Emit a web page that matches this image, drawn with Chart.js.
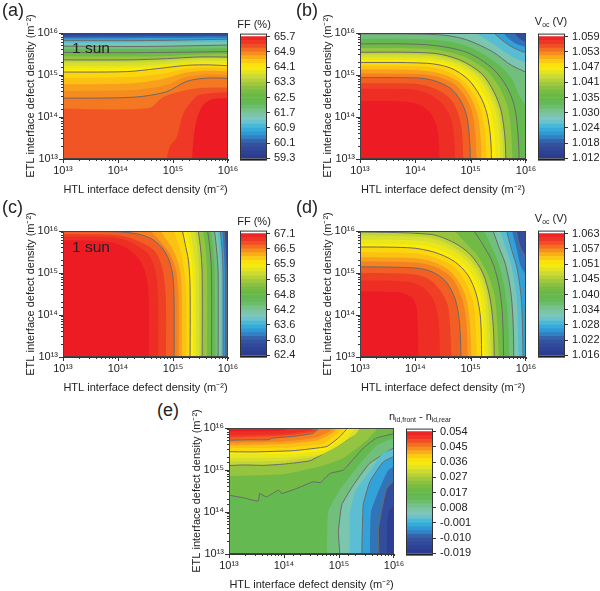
<!DOCTYPE html>
<html><head><meta charset="utf-8">
<script src="https://cdn.jsdelivr.net/npm/chart.js@4"></script>
<style>
html,body{margin:0;padding:0;background:#fff}
body{position:relative;width:600px;height:591px;overflow:hidden;font-family:"Liberation Sans",Arial,sans-serif;color:#222}
canvas{position:absolute}
.t{position:absolute;white-space:nowrap;line-height:1}
.t sub{font-size:.62em;vertical-align:-.35em;line-height:0}
</style></head><body>
<script>
const exponentTicks=['10¹³','10¹⁴','10¹⁵','10¹⁶'];
const xTitle='HTL interface defect density (m⁻²)';
const yTitle='ETL interface defect density (m⁻²)';

const scaleA=['59.3','60.1','60.9','61.7','62.5','63.3','64.1','64.9','65.7'];
const scaleB=['1.012','1.018','1.024','1.030','1.035','1.041','1.047','1.053','1.059'];
const scaleC=['62.4','63.0','63.6','64.2','64.8','65.3','65.9','66.5','67.1'];
const scaleD=['1.016','1.022','1.028','1.034','1.040','1.045','1.051','1.057','1.063'];
const scaleE=['-0.019','-0.010','-0.001','0.008','0.017','0.027','0.036','0.045','0.054'];

/* colour stops of the colour bar, bottom to top */
const colourStops=['#2b3a8e','#2f4498','#35569f','#2f8fd0','#37b4e0','#7cc7c5','#7cc39b','#66bb5c','#63b746','#80bd43','#abcb3c','#d8e02c','#fdec06','#fbbf14','#f47c22','#ef3f26','#ed1c24'];

/* contour levels: [level, has line, kind, x,y exponents...] */
const contoursA=[
[.0625,0,'',[13,15.96,16,15.97]],
[.125,0,'',[13,15.91,16,15.93]],
[.1875,0,'',[13,15.87,16,15.89]],
[.25,1,'',[13,15.82,14.5,15.82,16,15.86]],
[.3125,0,'',[13,15.76,16,15.79]],
[.375,1,'',[13,15.69,14.5,15.68,16,15.72]],
[.4375,0,'',[13,15.62,14.5,15.62,16,15.64]],
[.5,1,'',[13,15.54,14,15.53,15,15.54,16,15.56]],
[.5625,0,'',[13,15.45,14.5,15.44,15.5,15.49,16,15.5]],
[.625,1,'',[13,15.36,14.2,15.36,14.9,15.39,15.49,15.43,16,15.42]],
[.655,0,'',[13,15.3,14.2,15.3,14.9,15.33,15.5,15.39,16,15.38]],
[.6875,0,'',[13,15.22,14.2,15.22,14.9,15.27,15.5,15.34,16,15.32]],
[.72,0,'',[13,15.15,14.2,15.16,14.8,15.2,15.4,15.27,16,15.26]],
[.75,1,'',[13,15.07,14.15,15.08,14.7,15.15,15.25,15.23,15.67,15.24,16,15.2]],
[.78,0,'',[13,14.93,14.2,14.95,14.8,15.03,15.25,15.15,15.67,15.18,16,15.13]],
[.8125,0,'',[13,14.78,14.2,14.8,14.8,14.9,15.25,15.06,15.67,15.1,16,15.06]],
[.83,0,'',[13,14.62,14.25,14.64,14.85,14.75,15.25,14.96,15.67,15.02,16,14.98]],
[.85,1,'',[13,14.45,14.27,14.47,14.88,14.6,15.25,14.85,15.67,14.93,16,14.9]],
[.885,0,'',[13,14.21,14.55,14.21,14.84,14.49,15.49,14.69,16,14.69]],
[.92,0,'',[14.85,13,14.94,13.3,15.06,13.5,15.19,14.09,15.31,14.33,15.49,14.53,16,14.6]],
[.97,0,'',[15.34,13,15.37,13.45,15.43,13.93,15.55,14.29,15.73,14.43,16,14.44]]
];
const contoursB=[
[.0625,0,'',[15.85,16,16,15.92]],
[.125,0,'',[15.65,16,15.9,15.85,16,15.72]],
[.1875,0,'',[15.45,16,15.75,15.8,16,15.58]],
[.25,1,'',[15.23,16,15.55,15.85,15.85,15.6,16,15.44]],
[.3125,0,'',[14.8,16,15.45,15.7,15.8,15.4,16,15.18]],
[.375,1,'',[13,15.98,14.4,15.96,14.9,15.85,15.4,15.55,15.75,15.22,16,14.93]],
[.4375,0,'',[13,15.86,14.3,15.84,14.9,15.7,15.4,15.35,15.72,14.95,15.93,14.4,16,13.9]],
[.5,1,'',[13,15.74,14.2,15.72,14.93,15.54,15.4,15.15,15.66,14.7,15.8,14.2,15.86,13.5,15.88,13]],
[.5625,0,'',[13,15.64,14.25,15.62,14.85,15.45,15.3,15.09,15.54,14.65,15.68,14.18,15.74,13.5,15.76,13]],
[.625,1,'',[13,15.54,14.3,15.52,14.8,15.36,15.2,15.03,15.42,14.6,15.55,14.15,15.62,13.5,15.64,13]],
[.655,0,'',[13,15.48,14.3,15.46,14.76,15.31,15.15,15,15.37,14.58,15.5,14.14,15.57,13.5,15.59,13]],
[.6875,0,'',[13,15.42,14.25,15.4,14.72,15.27,15.1,14.98,15.32,14.56,15.45,14.13,15.52,13.5,15.54,13]],
[.72,0,'',[13,15.36,14.2,15.34,14.68,15.22,15.02,14.94,15.25,14.53,15.37,14.11,15.44,13.5,15.46,13]],
[.75,1,'',[13,15.3,14.2,15.28,14.63,15.17,14.95,14.9,15.17,14.5,15.29,14.1,15.36,13.5,15.38,13]],
[.78,0,'',[13,15.22,14.15,15.2,14.55,15.1,14.87,14.85,15.08,14.48,15.2,14.09,15.27,13.5,15.29,13]],
[.8125,0,'',[13,15.13,14.1,15.11,14.5,15.02,14.8,14.82,15,14.47,15.12,14.08,15.18,13.5,15.2,13]],
[.84,0,'',[13,15.04,14.1,15.02,14.42,14.95,14.72,14.77,14.92,14.45,15.04,14.05,15.09,13.5,15.11,13]],
[.875,1,'',[13,14.94,14.03,14.93,14.33,14.87,14.63,14.69,14.81,14.41,14.93,14.02,14.98,13.46,15,13]],
[.906,0,'',[13,14.8,14,14.79,14.3,14.7,14.58,14.5,14.74,14.2,14.84,13.7,14.87,13]],
[.9375,0,'',[13,14.67,13.9,14.66,14.25,14.55,14.5,14.3,14.65,13.95,14.71,13.4,14.72,13]],
[.97,0,'',[13,14.38,13.8,14.37,14.1,14.28,14.3,14.05,14.4,13.7,14.43,13.3,14.44,13]]
];
const contoursC=[
[.0625,0,'',[15.97,16,15.985,15.5,15.99,13]],
[.125,1,'',[15.92,16,15.95,15.6,15.97,15,15.97,13]],
[.1875,0,'',[15.88,16,15.92,15.6,15.94,15,15.94,13]],
[.25,1,'',[15.84,16,15.89,15.6,15.91,15,15.91,13]],
[.3125,0,'',[15.79,16,15.84,15.6,15.87,15,15.87,13]],
[.375,1,'',[15.73,16,15.79,15.6,15.82,15,15.82,13]],
[.4375,0,'',[15.67,16,15.73,15.6,15.76,15,15.77,13]],
[.5,1,'',[15.6,16,15.67,15.6,15.7,15,15.7,13]],
[.5625,0,'',[15.52,16,15.59,15.6,15.62,15,15.62,13]],
[.625,1,'',[15.43,16,15.5,15.6,15.53,15,15.53,13]],
[.655,0,'',[15.36,16,15.44,15.6,15.47,15,15.48,13]],
[.6875,0,'',[15.28,16,15.36,15.65,15.41,15.1,15.42,13]],
[.72,0,'',[15.2,16,15.29,15.7,15.35,15.2,15.37,14.4,15.37,13]],
[.75,1,'',[15.13,16,15.22,15.7,15.28,15.3,15.31,14.7,15.31,13]],
[.78,0,'',[14.95,16,15.07,15.8,15.16,15.4,15.22,14.9,15.24,14.3,15.24,13]],
[.8125,0,'',[14.65,16,14.85,15.85,15.02,15.5,15.13,15.05,15.16,14.4,15.16,13]],
[.84,0,'',[14.4,16,14.7,15.85,14.92,15.5,15.05,15.1,15.1,14.4,15.1,13]],
[.875,1,'',[13,15.99,14,15.98,14.35,15.93,14.6,15.82,14.8,15.6,14.93,15.3,15,14.9,15.02,14.3,15.02,13]],
[.906,0,'',[13,15.93,14,15.9,14.3,15.8,14.65,15.55,14.8,15.15,14.87,14.4,14.87,13]],
[.9375,0,'',[13,15.87,13.9,15.85,14.25,15.72,14.55,15.45,14.68,15.05,14.73,14.4,14.73,13]],
[.97,0,'',[13,15.78,13.8,15.75,14.15,15.6,14.4,15.3,14.52,14.9,14.56,14.3,14.56,13]]
];
const contoursD=[
[.0625,0,'',[15.9,16,16,15.65]],
[.125,1,'',[15.8,16,15.92,15.55,16,15.1]],
[.1875,0,'',[15.7,16,15.83,15.58,15.93,15.1,16,14.5]],
[.25,1,'',[15.6,16,15.73,15.6,15.84,15.1,15.92,14.3,15.95,13]],
[.3125,0,'',[15.47,16,15.62,15.65,15.74,15.15,15.83,14.4,15.87,13]],
[.375,1,'',[15.34,16,15.5,15.65,15.63,15.2,15.73,14.5,15.77,13.7,15.78,13]],
[.4375,0,'',[15.15,16,15.35,15.7,15.5,15.25,15.62,14.6,15.68,13.8,15.7,13]],
[.5,1,'',[14.93,16,15.2,15.72,15.38,15.3,15.5,14.78,15.57,14.1,15.6,13]],
[.5625,0,'',[14.55,16,14.85,15.8,15.1,15.45,15.3,15,15.44,14.4,15.52,13]],
[.625,1,'',[13,15.98,14.27,15.92,14.7,15.72,15,15.43,15.22,15,15.35,14.4,15.41,13.7,15.43,13]],
[.655,0,'',[13,15.9,14.2,15.85,14.6,15.68,14.92,15.4,15.16,15,15.3,14.4,15.38,13]],
[.6875,0,'',[13,15.8,14.1,15.77,14.5,15.65,14.85,15.38,15.1,15,15.25,14.42,15.32,13]],
[.72,0,'',[13,15.7,14,15.67,14.4,15.57,14.78,15.32,15.02,14.97,15.18,14.45,15.27,13]],
[.75,1,'',[13,15.62,13.9,15.6,14.33,15.5,14.7,15.28,14.95,14.95,15.1,14.5,15.18,13.9,15.2,13]],
[.78,0,'',[13,15.5,14,15.47,14.35,15.37,14.7,15.15,14.92,14.75,15.06,14.2,15.12,13]],
[.8125,0,'',[13,15.38,14,15.35,14.35,15.25,14.65,15.02,14.88,14.55,14.98,13.9,15.02,13]],
[.84,0,'',[13,15.28,14,15.25,14.35,15.15,14.65,14.9,14.83,14.45,14.92,13.85,14.95,13]],
[.875,1,'',[13,15.15,14,15.12,14.3,15.03,14.55,14.8,14.72,14.38,14.8,13.8,14.83,13]],
[.906,0,'',[13,15,13.95,14.97,14.25,14.85,14.47,14.55,14.6,14.15,14.66,13]],
[.9375,0,'',[13,14.82,13.85,14.8,14.15,14.65,14.33,14.35,14.42,13.9,14.45,13]],
[.97,0,'',[13,14.56,13.7,14.54,13.95,14.4,14.03,14.1,14.06,13]]
];
const contoursE=[
[.4375,0,'lo',[14.78,13,14.8,14,15,14.5,15.35,15.1,15.7,15.6,16,15.9]],
[.375,1,'lo',[15.03,13,14.99,13.53,15.05,14.17,15.26,14.64,15.56,15.16,16,15.76]],
[.3125,0,'lo',[15.2,13,15.2,14,15.3,14.5,15.55,14.95,15.8,15.4,16,15.62]],
[.25,1,'lo',[15.41,13,15.44,14.17,15.56,14.72,15.81,15.2,16,15.48]],
[.1875,0,'lo',[15.56,13,15.58,14,15.72,14.5,15.9,15,16,15.3]],
[.125,1,'lo',[15.73,13,15.72,13.61,15.87,14.56,16,15.08]],
[.0625,0,'lo',[15.87,13,15.9,14,16,14.5]],
[.5,1,'hi',[13,14.46,13.26,14.34,13.53,14.26,13.56,14.44,13.68,14.36,13.9,14.52,13.96,14.44,14.23,14.56,14.53,14.72,14.66,14.7,14.84,14.92,15.08,15,15.44,15.52,15.68,15.76,16,15.95]],
[.5625,0,'hi',[13,14.85,14,14.9,14.7,15.1,15.1,15.3,15.5,15.7,15.9,16]],
[.625,1,'hi',[13,15.09,13.26,15.12,13.62,15.11,13.99,15.14,14.47,15.22,14.84,15.48,15.2,15.76,15.62,16]],
[.655,0,'hi',[13,15.2,14,15.22,14.6,15.32,14.95,15.55,15.3,15.85,15.55,16]],
[.6875,0,'hi',[13,15.28,14.1,15.3,14.7,15.38,15.1,15.68,15.48,16]],
[.72,0,'hi',[13,15.38,14.1,15.38,14.75,15.47,15,15.72,15.42,16]],
[.75,1,'hi',[13,15.44,13.44,15.43,14.17,15.46,14.78,15.56,15.02,15.8,15.35,16]],
[.78,0,'hi',[13,15.52,14,15.53,14.7,15.62,14.95,15.85,15.22,16]],
[.8125,0,'hi',[13,15.58,14,15.62,14.6,15.7,14.9,15.9,15.1,16]],
[.84,0,'hi',[13,15.64,14,15.68,14.55,15.76,14.85,15.94,14.97,16]],
[.875,1,'hi',[13,15.7,13.4,15.72,13.71,15.72,13.8,15.76,14.17,15.8,14.53,15.88,14.88,16]],
[.906,0,'hi',[13,15.76,14,15.82,14.55,15.92,14.72,16]],
[.9375,0,'hi',[13,15.82,14,15.86,14.5,15.95,14.6,16]],
[.97,0,'hi',[13,15.92,14,15.94,14.3,16]]
];

function hexRgb(h){return [1,3,5].map(i=>parseInt(h.substr(i,2),16));}
function cmap(t){
  t=Math.max(0,Math.min(1,t));
  const f=t*(colourStops.length-1),i=Math.min(colourStops.length-2,Math.floor(f)),u=f-i;
  const a=hexRgb(colourStops[i]),b=hexRgb(colourStops[i+1]);
  return 'rgb('+a.map((v,k)=>Math.round(v+(b[k]-v)*u)).join(',')+')';
}
const OUT_LO=12.7,OUT_HI=16.3,FAR_LO=12.4,FAR_HI=16.6,CORNER_LO=12,CORNER_HI=17;
function edgeOf(p){
  if(p.x<=13)return 'L';if(p.x>=16)return 'R';if(p.y<=13)return 'B';return 'T';
}
function pushOut(p,lo,hi){
  const e=edgeOf(p);
  return e==='L'?{x:lo,y:p.y}:e==='R'?{x:hi,y:p.y}:e==='B'?{x:p.x,y:lo}:{x:p.x,y:hi};
}
/* corners are walked clockwise from the end of the curve back to its start */
const nextCorner={T:[CORNER_HI,CORNER_HI,'R'],R:[CORNER_HI,CORNER_LO,'B'],B:[CORNER_LO,CORNER_LO,'L'],L:[CORNER_LO,CORNER_HI,'T']};
function regionPoints(flat,reverse){
  let pts=[];
  for(let i=0;i<flat.length;i+=2)pts.push({x:flat[i],y:flat[i+1]});
  if(reverse)pts.reverse();
  const first=pts[0],last=pts[pts.length-1];
  const start=edgeOf(first);let e=edgeOf(last);
  const out=[pushOut(first,FAR_LO,FAR_HI),pushOut(first,OUT_LO,OUT_HI)].concat(pts.slice(1,-1),[pushOut(last,OUT_LO,OUT_HI),pushOut(last,FAR_LO,FAR_HI)]);
  let guard=0;
  do{const c=nextCorner[e];out.push({x:c[0],y:c[1]});e=c[2];guard++;}while(e!==start&&guard<5);
  return out;
}
function makeDatasets(list,tension){
  /* the first dataset is drawn last */
  return list.slice().reverse().map(([t,line,kind,flat])=>{
    const colour=cmap(kind==='lo'?t-.03:t+.03);
    return {
      data:regionPoints(flat,kind==='hi').map(p=>({x:10**p.x,y:10**p.y})),
      showLine:true,fill:'shape',backgroundColor:colour,
      borderColor:line?'#6a6a6a':'rgba(0,0,0,0)',borderWidth:line?1:0,
      pointRadius:0,tension:tension,capBezierPoints:false
    };
  });
}
function mk(tag,left,top,w,h){
  const c=document.createElement('canvas');c.width=w;c.height=h;
  c.style.left=left+'px';c.style.top=top+'px';c.style.width=w+'px';c.style.height=h+'px';
  document.body.appendChild(c);return c;
}
function text(html,x,cy,size,anchor){
  const d=document.createElement('div');d.className='t';d.innerHTML=html;
  d.style.left=x+'px';d.style.top=cy+'px';d.style.fontSize=size+'px';
  d.style.transform=anchor==='c'?'translate(-50%,-50%)':'translateY(-50%)';
  document.body.appendChild(d);
}
const FONT={family:'"Liberation Sans",Arial,sans-serif',size:11};
const INK='#222';
function heat(L,T,R,B,list,baseT,tension){
  const W=41,H=41,pr=17,pt=23;
  const cv=mk('h',L-W,T-pt,R-L+W+pr,B-T+pt+H);
  new Chart(cv,{type:'scatter',
    data:{datasets:makeDatasets(list,tension)},
    options:{responsive:false,animation:false,events:[],
      layout:{padding:{top:pt,right:pr,left:0,bottom:0}},
      plugins:{legend:{display:false},tooltip:{enabled:false}},
      scales:{
        x:{type:'logarithmic',min:1e13,max:1e16,afterFit(s){s.height=H;},
          grid:{drawOnChartArea:false,tickLength:2,color:'#333'},border:{color:'#333'},
          title:{display:true,text:xTitle,font:FONT,color:INK,padding:{top:0,bottom:3}},
          ticks:{autoSkip:false,maxRotation:0,minRotation:0,padding:3,font:FONT,color:INK,
            callback(v){const e=Math.log10(v),r=Math.round(e);return Math.abs(e-r)<1e-6?exponentTicks[r-13]:'';}}},
        y:{type:'logarithmic',min:1e13,max:1e16,afterFit(s){s.width=W;},
          grid:{drawOnChartArea:false,tickLength:2,color:'#333'},border:{color:'#333'},
          title:{display:true,text:yTitle,font:FONT,color:INK,padding:{top:2,bottom:0}},
          ticks:{autoSkip:false,padding:3,font:FONT,color:INK,
            callback(v){const e=Math.log10(v),r=Math.round(e);return Math.abs(e-r)<1e-6?exponentTicks[r-13]:'';}}}
      }},
    plugins:[{id:'frame',
      beforeDatasetsDraw(c){const a=c.chartArea,g=c.ctx;g.save();g.fillStyle=cmap(baseT);g.fillRect(a.left,a.top,a.width,a.height);g.restore();},
      afterDraw(c){const a=c.chartArea,g=c.ctx;g.save();g.strokeStyle='#444';g.lineWidth=1;
        g.strokeRect(a.left+.5,a.top+.5,a.width-1,a.height-1);
        g.strokeStyle='#333';g.beginPath();
        for(let e=13;e<=16;e++){
          const px=Math.round(c.scales.x.getPixelForValue(10**e))+.5,py=Math.round(c.scales.y.getPixelForValue(10**e))+.5;
          g.moveTo(Math.min(px,a.right-.5),a.bottom);g.lineTo(Math.min(px,a.right-.5),a.bottom+4);
          g.moveTo(a.left,Math.max(py,a.top+.5));g.lineTo(a.left-4,Math.max(py,a.top+.5));
        }
        g.stroke();g.restore();}
    }]
  });
}
function bar(L,T,B,labels){
  const w=27,pad=10,right=52;
  const cv=mk('b',L-1,T-pad,w+right+1,B-T+2*pad);
  const n=labels.length-1,bands=32,sets=[];
  sets.push({data:[[-.13,0]],backgroundColor:'#000'});
  for(let i=0;i<bands;i++){const lo=i*n/bands,hi=(i+1)*n/bands;sets.push({data:[[lo,hi]],backgroundColor:cmap((i+.5)/bands)});}
  sets.push({data:[[n,n+.2]],backgroundColor:'#fff'});
  sets.forEach(s=>{s.barPercentage=1;s.categoryPercentage=1;s.grouped=false;s.borderWidth=0;});
  new Chart(cv,{type:'bar',data:{labels:[''],datasets:sets},
    options:{responsive:false,animation:false,events:[],
      layout:{padding:{top:pad,bottom:pad,left:1,right:0}},
      plugins:{legend:{display:false},tooltip:{enabled:false}},
      scales:{x:{display:false},
        y:{position:'right',min:-.13,max:n+.2,afterFit(s){s.width=right;},
          afterBuildTicks(s){s.ticks=labels.map((_,i)=>({value:i}));},
          grid:{drawOnChartArea:false,tickLength:3,color:'#333'},border:{display:false},
          ticks:{padding:4,font:FONT,color:INK,autoSkip:false,callback(v){return labels[Math.round(v)];}}}}},
    plugins:[{id:'frame',afterDraw(c){const a=c.chartArea,g=c.ctx;g.save();g.strokeStyle='#333';g.lineWidth=1;g.strokeRect(a.left+.5,a.top+.5,a.width-1,a.height-1);g.restore();}}]
  });
}
heat(63,33,228,159,contoursA,.03,.3); bar(240,33,161,scaleA);
heat(360,33,526,159,contoursB,.03,.3); bar(538,33,161,scaleB);
heat(63,231,228,357,contoursC,.03,.3); bar(240,230,358,scaleC);
heat(360,231,526,357,contoursD,.03,.3); bar(538,230,358,scaleD);
heat(229,428,394,554,contoursE,.47,.12); bar(406,428,556,scaleE);

text('(a)',2,10,18);text('(b)',296,10,18);text('(c)',2,207,18);text('(d)',296,207,18);text('(e)',157,410,18);
text('1 sun',72,48,15.5);text('1 sun',72,247,15.5);
text('FF (%)',254,24,11,'c');text('FF (%)',254,221,11,'c');
text('V<sub>oc</sub> (V)',551,21,11,'c');text('V<sub>oc</sub> (V)',551,218,11,'c');
text('n<sub>id,front</sub> - n<sub>id,rear</sub>',420,416,11,'c');
</script>
</body></html>
